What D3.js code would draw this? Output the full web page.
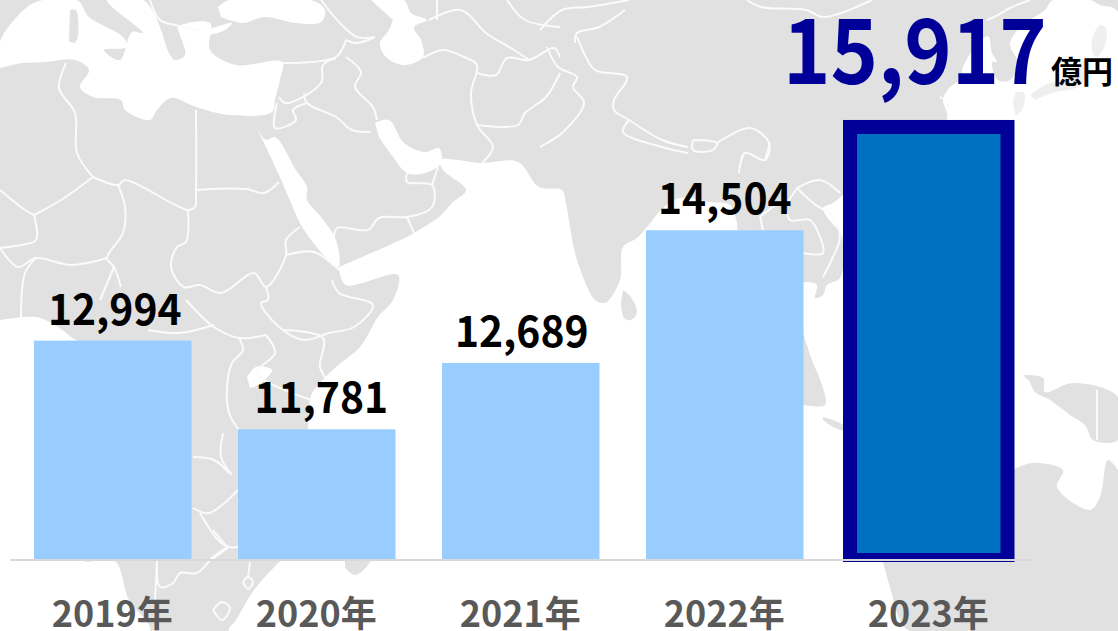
<!DOCTYPE html>
<html><head><meta charset="utf-8">
<script src="https://cdn.jsdelivr.net/npm/d3@7"></script>
<style>html,body{margin:0;padding:0;background:#fff}svg{display:block}text{font-family:"Noto Sans CJK JP","Noto Sans",sans-serif;font-weight:700}</style>
</head><body><svg id="c" width="1118" height="631"></svg>
<script>
const years = ["2019年","2020年","2021年","2022年","2023年"];
const sales = [12994,11781,12689,14504,15917];
const unit = "億円";
const labelShift = [2,4.5,1,0];

// Decorative backdrop map, traced by hand
const waterShapes = [
 [[339,267],[407,237],[414,233],[439,217],[452,203],[466,190],[443,170],[440,160],[482,163],[518,162],[539,187],[562,190],[566,203],[570,227],[577,260],[595,300],[603,303],[607,302],[620,280],[623,247],[637,238],[647,227],[663,208],[680,198],[710,202],[730,205],[737,223],[738,230],[757,232],[803,282],[807,282],[817,285],[815,298],[823,295],[827,285],[840,278],[842,237],[827,217],[823,208],[833,203],[843,195],[946,121],[947,113],[943,100],[950,87],[960,80],[963,67],[973,50],[988,36],[992,53],[997,62],[992,62],[998,80],[1010,80],[1018,63],[1010,45],[1015,33],[1030,20],[1045,10],[1053,0],[1090,0],[1100,5],[1118,12],[1118,631],[229,631],[236,620],[254,590],[278,563],[300,540],[310,400],[314,390],[336,367],[360,347],[378,317],[393,300],[398,275],[346,285],[339,270]],
 [[0,320],[36,317],[55,325],[71,337],[80,345],[80,559],[114,560],[129,600],[150,631],[0,631]],
 [[0,68],[0,42],[14,20],[36,2],[77,0],[89,17],[123,37],[127,47],[104,50],[120,60],[132,32],[143,33],[107,0],[143,0],[154,13],[161,30],[170,55],[175,60],[185,55],[180,35],[178,27],[210,23],[210,50],[236,65],[282,62],[280,80],[275,100],[272,112],[229,115],[196,107],[171,98],[157,110],[150,120],[125,110],[121,100],[93,97],[80,87],[89,70],[75,60],[46,62],[21,63]],
 [[207,30],[232,23],[225,30],[210,35]],
 [[218,7],[229,0],[311,0],[325,10],[321,22],[296,23],[264,17],[243,23],[221,17]],
 [[371,0],[404,0],[411,13],[427,20],[414,27],[421,40],[423,57],[404,65],[386,57],[380,43],[389,30],[393,20]],
 [[254,123],[266,140],[275,137],[296,170],[307,187],[307,200],[321,217],[336,240],[339,267],[336,267],[304,230],[291,203],[280,177],[264,143]],
 [[375,123],[389,120],[404,143],[425,152],[439,148],[441,163],[425,173],[407,173],[393,157],[379,137]],
 [[247,377],[256,367],[272,370],[258,385],[250,388]]
];
const islandShapes = [
 [[70,10],[76,10],[76,42],[69,42]],
 [[345,555],[372,555],[368,565],[355,575],[345,568]],
 [[1118,470],[1108,460],[1100,497],[1090,510],[1057,487],[1063,470],[1033,463],[1013,470],[1000,480],[880,555],[883,563],[890,587],[900,620],[910,631],[1118,631]],
 [[1023,375],[1043,378],[1045,392],[1073,383],[1118,397],[1118,440],[1093,440],[1085,425],[1070,415],[1050,400],[1035,392],[1030,382]],
 [[803,333],[812,360],[822,385],[825,405],[803,405]],
 [[823,417],[843,425],[843,430],[835,428],[823,420]],
 [[623,290],[630,296],[637,312],[631,320],[624,318],[621,302]]
];
const paleIslands = [
 [[1016,92],[1024,93],[1023,108],[1016,115],[1013,100]],
 [[1030,95],[1045,85],[1065,78],[1085,60],[1090,70],[1075,88],[1055,92],[1035,100]],
 [[1093,55],[1092,40],[1100,25],[1106,28],[1105,45],[1098,57]]
];
const borderLines = [
 [[66,63],[59,88],[75,113],[77,153],[93,177]],[[93,177],[61,200],[34,215]],[[34,215],[25,210],[0,190]],[[34,215],[36,240],[21,245],[0,248]],
 [[93,177],[118,185],[125,180],[188,210],[195,207],[196,190],[196,110]],[[196,190],[246,189],[264,193],[279,182]],
 [[118,185],[125,207],[123,233],[107,258],[114,267],[121,287]],
 [[188,210],[186,242],[177,247],[171,267],[184,287],[200,285],[221,293],[254,273],[266,287],[286,255],[286,240],[300,227]],
 [[286,255],[314,252],[339,270]],[[0,248],[18,267],[36,258],[71,265],[107,258]],[[36,258],[25,273],[21,320]],[[114,267],[100,300]],
 [[332,280],[339,293],[373,305],[354,327],[329,333],[304,340],[279,327],[261,303],[268,300],[266,287]],
 [[186,300],[214,327],[239,338],[266,335]],[[148,330],[179,333],[214,325]],
 [[239,338],[243,350],[232,363],[227,387],[229,413],[239,430]],[[266,335],[275,353],[257,373],[311,400]],[[282,330],[323,338],[320,367],[327,380]],
 [[193,457],[214,460],[229,473]],[[223,433],[221,457],[232,475]],[[193,508],[209,513],[238,490]],[[200,513],[218,540],[229,547],[238,547]],[[229,547],[211,560]],
 [[157,560],[160,587],[173,583],[180,573],[197,573],[213,557],[227,547]],[[213,530],[227,547]],[[250,562],[248,578]],[[157,560],[155,600]],
 [[213,610],[222,602],[230,608],[222,620],[213,610]],[[243,582],[248,577],[253,582],[248,589],[243,582]],
 [[282,63],[336,57],[346,40]],[[336,58],[323,65],[321,83],[286,103],[279,97]],[[346,57],[361,72],[355,87],[373,107],[377,120]],
 [[304,93],[307,103],[336,117],[352,130],[371,132]],[[307,103],[293,110],[296,120],[275,128],[277,103]],
 [[407,173],[407,182],[432,185],[434,203],[429,210],[407,217],[379,218],[368,230],[337,228],[334,237]],[[407,217],[414,233]],[[432,185],[438,167]],
 [[346,40],[357,43],[375,37]],[[423,58],[443,50],[464,57],[477,65],[471,93],[477,125],[493,147],[482,163]],
 [[477,73],[496,75],[507,58],[529,60],[554,48],[560,57]],[[477,125],[518,125],[525,113],[546,97],[560,73]],
 [[429,20],[461,10],[486,33],[514,50],[529,60]],[[437,0],[437,20]],[[507,0],[525,20],[560,27]],
 [[547,47],[558,67],[577,77],[573,87],[584,103],[562,133],[547,143],[540,147]],
 [[577,37],[584,53],[595,70],[627,77],[614,100],[614,110],[629,120],[662,140],[688,147]],[[629,120],[623,132],[662,147],[688,153]],
 [[693,140],[717,143],[713,150],[693,150],[693,140]],[[717,143],[750,128],[769,143],[765,160],[745,153],[739,173]],
 [[540,30],[562,10],[588,7],[629,0]],[[575,43],[577,33],[599,27],[625,10]],[[747,0],[761,7],[806,10],[824,17],[872,0]],
 [[797,188],[813,203],[833,217],[840,237],[833,257],[823,277]],[[760,217],[783,203],[790,220],[810,220],[820,237],[823,253],[803,253]],[[760,217],[763,230]],
 [[797,188],[820,180],[840,193]],[[787,203],[797,188]],[[770,143],[765,160]],
 [[987,20],[998,15],[1010,8],[1030,0]],[[150,0],[160,20],[175,25],[200,30]],[[321,0],[340,23],[357,37],[375,37]],[[1097,390],[1097,440]],
 [[940,97],[948,103],[946,110]]
];

const svg = d3.select("#c");
const x = d3.scaleBand().domain(years).range([34,1007.5]).paddingInner(0.228).paddingOuter(0);
const y = d3.scaleLinear().domain([10000,16000]).range([559.5,120.9]);
const path = d3.line().curve(d3.curveCatmullRom.alpha(0.5));

const defs = svg.append("defs");
defs.append("clipPath").attr("id","cut").append("rect").attr("x",0).attr("y",0).attr("width",1118).attr("height",562);
defs.append("filter").attr("id","soft").attr("x",0).attr("y",0).attr("width",1).attr("height",1).append("feGaussianBlur").attr("stdDeviation",0.6);

const map = svg.append("g").attr("filter","url(#soft)");
map.append("rect").attr("width",1118).attr("height",631).attr("fill","#e1e1e1");
map.selectAll("path.w").data(waterShapes).join("path").attr("class","w").attr("d",d=>path(d)+"Z").attr("fill","#fff");
map.selectAll("path.i").data(islandShapes).join("path").attr("class","i").attr("d",d=>path(d)+"Z").attr("fill","#e1e1e1");
map.selectAll("path.p").data(paleIslands).join("path").attr("class","p").attr("d",d=>path(d)+"Z").attr("fill","#efefef");
map.selectAll("path.b").data(borderLines).join("path").attr("class","b").attr("d",path).attr("fill","none").attr("stroke","#fbfbfb").attr("stroke-width",2);

const last = years.length-1;
svg.selectAll("rect.bar").data(years).join("rect").attr("class","bar")
  .attr("x",d=>x(d)).attr("width",x.bandwidth())
  .attr("y",(d,i)=>y(sales[i]))
  .attr("height",(d,i)=>(i===last?560:559.5)-y(sales[i]))
  .attr("fill",(d,i)=>i===last?"#0070C0":"#99CCFF")
  .attr("stroke",(d,i)=>i===last?"#000099":"none")
  .attr("stroke-width",(d,i)=>i===last?14:0)
  .attr("clip-path",(d,i)=>i===last?"url(#cut)":null);

svg.append("line").attr("x1",10).attr("x2",1031).attr("y1",560).attr("y2",560).attr("stroke","#d9d9d9").attr("stroke-width",2);

const ax = svg.append("g").attr("transform","translate(0,560)").call(d3.axisBottom(x).tickSize(0).tickPadding(0));
ax.select(".domain").remove();
ax.selectAll("text").attr("dy",null).attr("y",67).attr("dx",-0.5).attr("fill","#595959").style("font-size","36px").style("font-family",'"Noto Sans CJK JP"').style("font-weight",700);

svg.selectAll("text.val").data(years.slice(0,last)).join("text").attr("class","val")
  .attr("transform",(d,i)=>`translate(${x(d)+x.bandwidth()/2+labelShift[i]},${y(sales[i])-16}) scale(0.95,1)`)
  .attr("text-anchor","middle").attr("fill","#000").style("font-size","43px")
  .text((d,i)=>d3.format(",")(sales[i]));

svg.append("text").attr("transform","translate(783,84) scale(0.895,1)").attr("fill","#000099").style("font-size","90px")
  .text(d3.format(",")(sales[last]));
svg.append("text").attr("x",1051).attr("y",83).attr("fill","#000").style("font-size","31px").text(unit);
</script></body></html>
